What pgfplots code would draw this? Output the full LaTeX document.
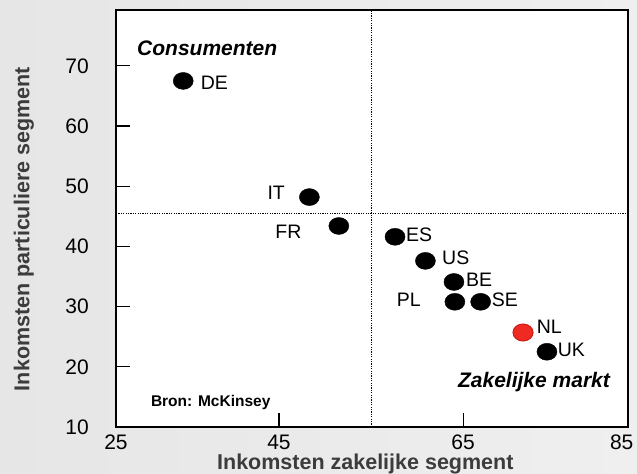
\documentclass[border=0pt]{standalone}
\usepackage{pgfplots}
\pgfplotsset{compat=1.18}
\usepackage{fontspec}
\setmainfont{Liberation Sans}
\definecolor{bgl}{HTML}{E6E6E6}
\definecolor{bgr}{HTML}{EFEFEF}
\definecolor{labelgray}{HTML}{3C3C3C}
\definecolor{nlred}{HTML}{EE2A22}
\definecolor{nlredd}{HTML}{D01A12}

\pgfplotsset{
  cpt/.style n args={3}{
    only marks, mark=*, mark size=8.5bp,
    mark options={xscale=1.18, fill=black, draw=black},
    nodes near coords, point meta=explicit symbolic,
    every node near coord/.style={anchor=#1, xshift=#2, yshift=#3,
      inner sep=0pt, font=\fontsize{19.5bp}{23bp}\selectfont, text=black},
  }
}

\begin{document}
\begin{tikzpicture}
\path[use as bounding box, left color=bgl, right color=bgr] (-116bp,-47bp) rectangle (521bp,427bp);
\begin{axis}[
  at={(0,0)}, anchor=south west, scale only axis,
  width=512bp, height=416.5bp,
  xmin=27.3, xmax=82.9, ymin=10, ymax=79.2,
  axis background/.style={fill=white},
  axis line style={line width=2bp, black},
  xtick={27.3,45,65,82.9}, xticklabels={25,45,65,\hspace*{-12.6bp}85},
  ytick={10,20,...,70},
  tick align=inside, xtick pos=bottom, ytick pos=left,
  major tick length=14bp,
  tick style={line width=1.2bp, black},
  /pgf/number format/assume math mode=true,
  ticklabel style={font=\fontsize{21bp}{25bp}\selectfont, inner sep=0pt},
  xticklabel style={yshift=-8bp},
  yticklabel style={xshift=-27bp},
  xlabel={Inkomsten zakelijke segment},
  ylabel={Inkomsten particuliere segment},
  label style={font=\bfseries\fontsize{21.5bp}{25bp}\selectfont, text=labelgray, inner sep=0pt},
  xlabel style={at={(axis description cs:0.487,-0.1032)}, anchor=base},
  ylabel style={at={(axis description cs:-0.18,0.475)}, anchor=center},
  clip=false,
]
\addplot[black, line width=1bp, dash pattern=on 1.2bp off 1.2bp] coordinates {(55,10) (55,79.2)};
\addplot[black, line width=1bp, dash pattern=on 1.2bp off 1.2bp] coordinates {(27.3,45.5) (82.9,45.5)};

\addplot[cpt={west}{17.4bp}{-2.3bp}] coordinates {(34.6,67.5) [DE]};
\addplot[cpt={east}{-24.3bp}{4.6bp}] coordinates {(48.3,48.2) [IT]};
\addplot[cpt={east}{-37.3bp}{-5.7bp}] coordinates {(51.5,43.4) [FR]};
\addplot[cpt={west}{11bp}{2bp}] coordinates {(57.6,41.6) [ES]};
\addplot[cpt={west}{16.6bp}{3.3bp}] coordinates {(60.9,37.6) [US]};
\addplot[cpt={west}{12bp}{1.7bp}] coordinates {(64.0,34.1) [BE]};
\addplot[cpt={east}{-34bp}{1.7bp}] coordinates {(64.1,30.8) [PL]};
\addplot[cpt={west}{11bp}{1.7bp}] coordinates {(66.9,30.8) [SE]};
\addplot[cpt={west}{10.7bp}{1.7bp}] coordinates {(74.1,22.5) [UK]};
\addplot[cpt={west}{13.3bp}{5.6bp}, mark options={xscale=1.18, fill=nlred, draw=nlredd, line width=1bp}] coordinates {(71.5,25.7) [NL]};

\node[anchor=west, inner sep=0pt, font=\bfseries\itshape\fontsize{21bp}{25bp}\selectfont] at (rel axis cs:0.041,0.91) {Consumenten};
\node[anchor=east, inner sep=0pt, font=\bfseries\itshape\fontsize{21bp}{25bp}\selectfont] at (rel axis cs:0.965,0.108) {Zakelijke markt};
\node[anchor=west, inner sep=0pt, font=\bfseries\fontsize{15.5bp}{18bp}\selectfont] at (rel axis cs:0.068,0.058) {Bron: McKinsey};
\end{axis}
\end{tikzpicture}
\end{document}
